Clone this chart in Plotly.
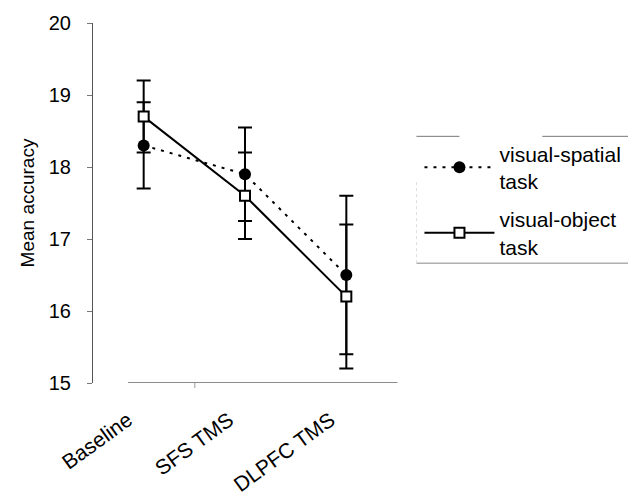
import plotly.graph_objects as go

categories = ["Baseline", "SFS TMS", "DLPFC TMS"]
spatial_mean = [18.3, 17.9, 16.5]
spatial_err = [0.6, 0.65, 1.1]
object_mean = [18.7, 17.6, 16.2]
object_err = [0.5, 0.6, 1.0]
y_ticks = [15, 16, 17, 18, 19, 20]

FONT = "Liberation Sans, Arial, sans-serif"
OFF = 8  # default page body margin

fig = go.Figure()
fig.add_trace(go.Scatter(
    x=categories, y=spatial_mean, name="visual-spatial<br>task",
    mode="lines+markers",
    line=dict(color="black", width=2, dash="3px,6px"),
    marker=dict(symbol="circle", size=12, color="black"),
    error_y=dict(type="data", array=spatial_err, color="black", thickness=2, width=7),
    legendgroup="a",
))
fig.add_trace(go.Scatter(
    x=categories, y=object_mean, name="visual-object<br>task",
    mode="lines+markers",
    line=dict(color="black", width=2),
    marker=dict(symbol="square", size=10, color="white", line=dict(color="black", width=2)),
    error_y=dict(type="data", array=object_err, color="black", thickness=2, width=7),
    legendgroup="b",
))

def px_x(p):
    return (p - 93) / 304.5

def px_y(p):
    return (383 - p) / 360.5

shapes = [
    dict(type="line", xref="paper", yref="y", x0=px_x(128), x1=px_x(398), y0=15, y1=15,
         line=dict(color="#666666", width=1.5)),
    dict(type="line", xref="paper", yref="paper", x0=px_x(195), x1=px_x(195), y0=0, y1=px_y(388),
         line=dict(color="#999999", width=1)),
    dict(type="line", xref="paper", yref="paper", x0=px_x(417), x1=px_x(460), y0=px_y(136), y1=px_y(136),
         line=dict(color="#777777", width=1)),
    dict(type="line", xref="paper", yref="paper", x0=px_x(543), x1=px_x(636), y0=px_y(136), y1=px_y(136),
         line=dict(color="#777777", width=1)),
    dict(type="line", xref="paper", yref="paper", x0=px_x(417), x1=px_x(636), y0=px_y(263), y1=px_y(263),
         line=dict(color="#888888", width=1)),
    dict(type="line", xref="paper", yref="paper", x0=px_x(417), x1=px_x(417), y0=px_y(263), y1=px_y(180),
         line=dict(color="#dddddd", width=1, dash="dot")),
]

fig.update_layout(
    width=636 - OFF, height=497 - OFF,
    margin=dict(l=93 - OFF, r=238.5, t=22.5 - OFF, b=114, autoexpand=False),
    paper_bgcolor="white", plot_bgcolor="white",
    font=dict(family=FONT, size=20, color="black"),
    showlegend=True,
    legend=dict(x=px_x(420), y=px_y(133), xanchor="left", yanchor="top",
                font=dict(size=21), itemwidth=70, tracegroupgap=8,
                bgcolor="rgba(0,0,0,0)"),
    shapes=shapes,
)
fig.update_xaxes(
    type="category", range=[-0.5, 2.5], showgrid=False, zeroline=False, showline=False,
    tickangle=-36, ticks="", tickfont=dict(size=21),
    ticklabelshift=-16, ticklabelstandoff=20,
)
fig.update_yaxes(
    range=[15, 20], tickvals=y_ticks, showgrid=False, zeroline=False,
    showline=True, linecolor="#555555", linewidth=1,
    ticks="outside", ticklen=5, tickcolor="#777777", ticklabelstandoff=12,
    tickfont=dict(size=20),
    title=dict(text="Mean accuracy", font=dict(size=19), standoff=9),
)

fig.write_html("out.html")
